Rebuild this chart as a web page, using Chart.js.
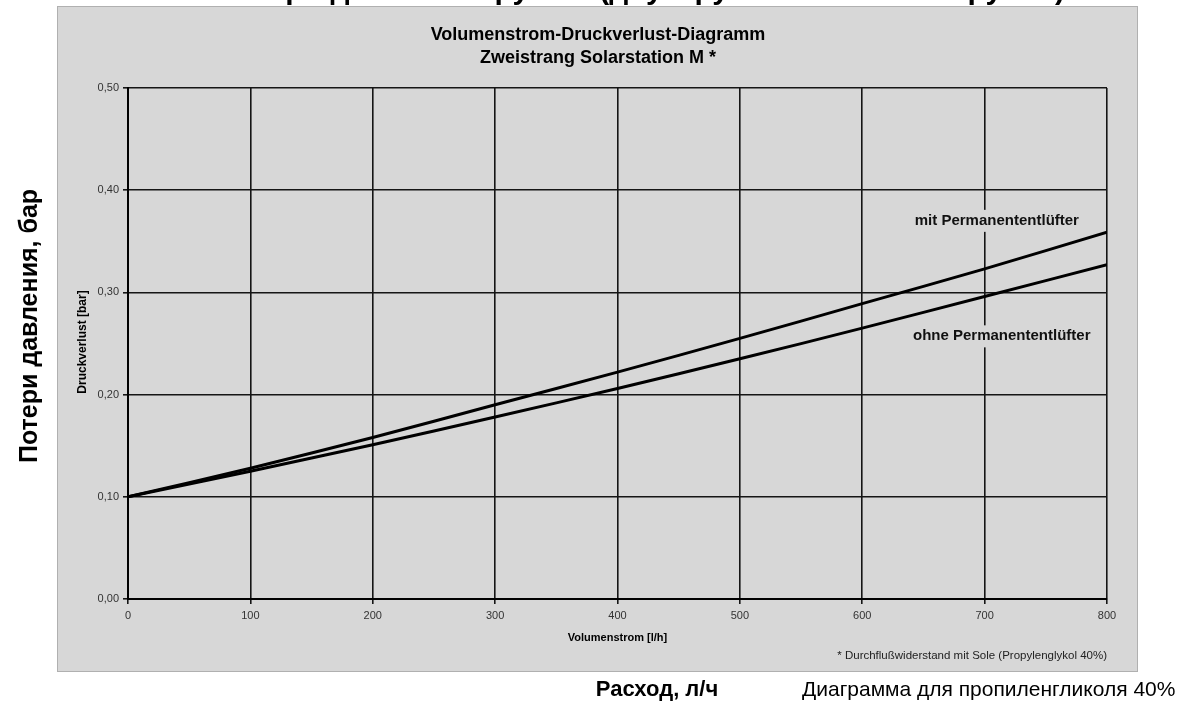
<!DOCTYPE html>
<html lang="de">
<head>
  <meta charset="UTF-8">
  <title>Volumenstrom-Druckverlust-Diagramm</title>
  <script src="https://cdn.jsdelivr.net/npm/chart.js"></script>
  <style>
    html, body { margin: 0; padding: 0; background: #fff; }
    #chart { display: block; }
  </style>
</head>
<body>
  <canvas id="chart" width="1186" height="708"></canvas>

  <script>
    // values
    const flow = [0, 100, 200, 300, 400, 500, 600, 700, 800];          // l/h
    const mitLuefter = [0.100, 0.128, 0.158, 0.190, 0.222, 0.255, 0.289, 0.323, 0.359];
    const ohneLuefter = [0.100, 0.125, 0.151, 0.178, 0.206, 0.235, 0.265, 0.296, 0.327];
    const seriesNames = ['mit Permanententlüfter', 'ohne Permanententlüfter'];
    const yTicks = [0, 0.1, 0.2, 0.3, 0.4, 0.5];

    const panelColor = '#d7d7d7';
    const font = 'Arial, "Liberation Sans", sans-serif';

    const toPoints = ys => flow.map((x, i) => ({ x, y: ys[i] }));

    // panel background, titles and notes
    const decor = {
      id: 'decor',
      beforeDraw(chart) {
        const ctx = chart.ctx;
        ctx.save();
        ctx.fillStyle = '#fff';
        ctx.fillRect(0, 0, chart.width, chart.height);
        ctx.fillStyle = panelColor;
        ctx.fillRect(57, 6, 1080, 665);
        ctx.strokeStyle = '#b0b0b0';
        ctx.lineWidth = 1;
        ctx.strokeRect(57.5, 6.5, 1080, 665);
        ctx.restore();
      },
      afterDraw(chart) {
        const ctx = chart.ctx;
        const { x, y } = chart.scales;
        const area = chart.chartArea;
        const cx = (area.left + area.right) / 2;
        ctx.save();

        // heading cut off at the very top (only descenders show)
        ctx.save();
        ctx.beginPath();
        ctx.rect(0, 0, chart.width, 6);
        ctx.clip();
        ctx.fillStyle = '#000';
        ctx.font = 'bold 30px ' + font;
        ctx.textAlign = 'right';
        ctx.textBaseline = 'alphabetic';
        ctx.fillText('Потери давления группы (двухтрубная насосная группа)', 1065, -1);
        ctx.restore();

        ctx.fillStyle = '#000';
        ctx.textAlign = 'center';
        ctx.textBaseline = 'middle';
        ctx.font = 'bold 18px ' + font;
        ctx.fillText('Volumenstrom-Druckverlust-Diagramm', 598, 35);
        ctx.fillText('Zweistrang Solarstation M *', 598, 58);

        // axis titles inside the panel
        ctx.font = 'bold 11px ' + font;
        ctx.fillText('Volumenstrom [l/h]', cx, 638);
        ctx.save();
        ctx.translate(83, 342);
        ctx.rotate(-Math.PI / 2);
        ctx.font = 'bold 12px ' + font;
        ctx.fillText('Druckverlust [bar]', 0, 0);
        ctx.restore();

        ctx.font = '11.5px ' + font;
        ctx.textAlign = 'right';
        ctx.fillStyle = '#222';
        ctx.fillText('* Durchflußwiderstand mit Sole (Propylenglykol 40%)', area.right, 656);

        // series labels with panel-coloured background
        ctx.font = 'bold 15px ' + font;
        ctx.textAlign = 'center';
        const labels = [
          { text: seriesNames[0], xv: 710, yv: 0.370 },
          { text: seriesNames[1], xv: 714, yv: 0.257 }
        ];
        labels.forEach(l => {
          const px = x.getPixelForValue(l.xv);
          const py = y.getPixelForValue(l.yv);
          const w = ctx.measureText(l.text).width;
          ctx.fillStyle = panelColor;
          ctx.fillRect(px - w / 2 - 3, py - 11, w + 6, 22);
          ctx.fillStyle = '#111';
          ctx.fillText(l.text, px, py);
        });

        // captions outside the panel
        ctx.fillStyle = '#000';
        ctx.font = 'bold 22px ' + font;
        ctx.fillText('Расход, л/ч', 657, 690);
        ctx.font = '21px ' + font;
        ctx.textAlign = 'left';
        ctx.fillText('Диаграмма для пропиленгликоля 40%', 802, 690);

        ctx.save();
        ctx.translate(30, 326);
        ctx.rotate(-Math.PI / 2);
        ctx.textAlign = 'center';
        ctx.font = 'bold 25px ' + font;
        ctx.fillText('Потери давления, бар', 0, 0);
        ctx.restore();

        ctx.restore();
      }
    };

    new Chart(document.getElementById('chart'), {
      type: 'line',
      data: {
        datasets: [
          {
            label: seriesNames[0],
            data: toPoints(mitLuefter),
            borderColor: '#000',
            borderWidth: 3,
            pointRadius: 0,
            tension: 0.3
          },
          {
            label: seriesNames[1],
            data: toPoints(ohneLuefter),
            borderColor: '#000',
            borderWidth: 3,
            pointRadius: 0,
            tension: 0.3
          }
        ]
      },
      options: {
        responsive: false,
        animation: false,
        layout: { padding: { left: 60, top: 88, right: 79, bottom: 0 } },
        plugins: {
          legend: { display: false },
          tooltip: { enabled: false }
        },
        scales: {
          x: {
            type: 'linear',
            min: 0,
            max: 800,
            ticks: {
              stepSize: 100,
              color: '#333',
              font: { family: font, size: 11 },
              padding: 5
            },
            grid: { color: '#151515', lineWidth: 1.6, tickLength: 5, tickColor: '#151515' },
            border: { color: '#000', width: 2 },
            afterFit(s) { s.height = 109; }
          },
          y: {
            min: 0,
            max: 0.5,
            afterBuildTicks(s) { s.ticks = yTicks.map(v => ({ value: v })); },
            ticks: {
              color: '#333',
              font: { family: font, size: 11 },
              padding: 4,
              callback: v => v.toFixed(2).replace('.', ',')
            },
            grid: { color: '#151515', lineWidth: 1.6, tickLength: 5, tickColor: '#151515' },
            border: { color: '#000', width: 2 },
            afterFit(s) { s.width = 68; }
          }
        }
      },
      plugins: [decor]
    });
  </script>
</body>
</html>
